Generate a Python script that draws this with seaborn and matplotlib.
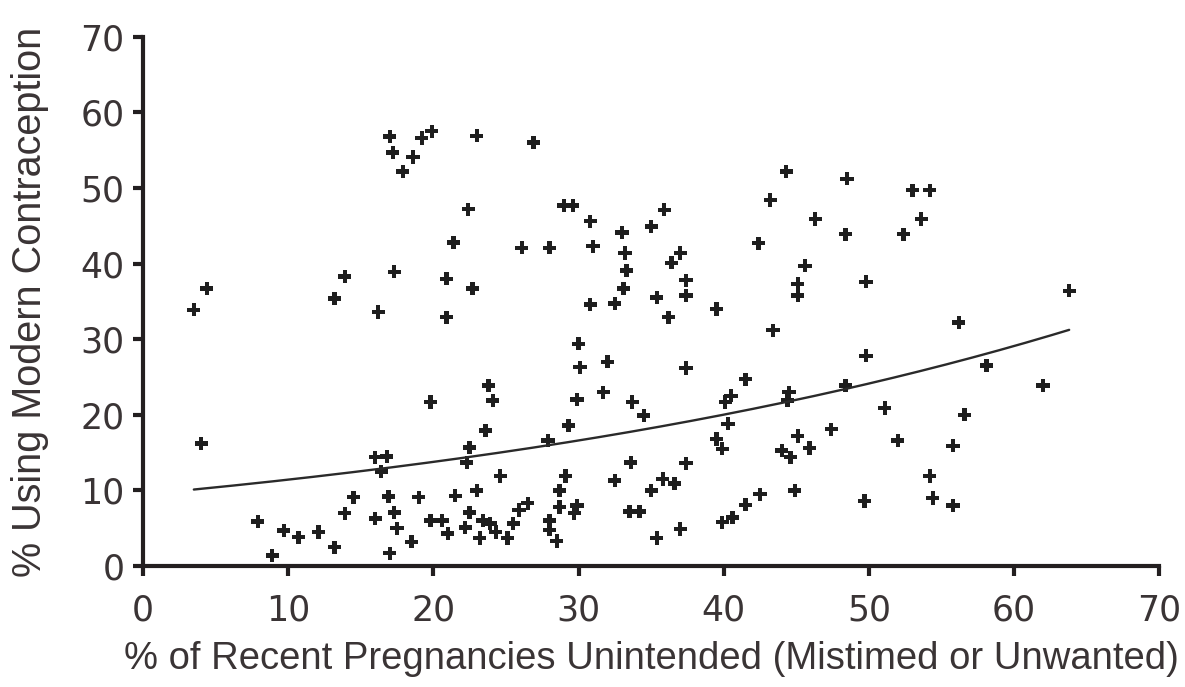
import numpy as np
import pandas as pd
import matplotlib
matplotlib.use('Agg')
import matplotlib.pyplot as plt
import seaborn as sns

# ── data ───────────────────────────────────────────────────────
unintended = [
    17.0, 17.2, 17.9, 18.6, 19.2, 19.9, 23.0, 22.4, 21.4, 4.4,
    3.5, 13.9, 17.3, 13.2, 16.2, 20.9, 22.7, 20.9, 4.0, 19.8,
    22.5, 22.3, 16.0, 16.8, 16.4, 14.5, 16.9, 19.0, 21.5, 23.0,
    7.9, 13.9, 16.0, 17.3, 9.7, 10.7, 12.1, 17.5, 19.8, 20.6,
    21.0, 22.2, 22.5, 18.5, 13.2, 8.9, 17.0, 23.2, 26.9, 44.3,
    43.2, 29.0, 29.6, 30.8, 33.0, 35.0, 35.9, 26.1, 28.0, 31.0,
    33.2, 33.3, 33.1, 37.0, 36.4, 37.4, 37.4, 35.4, 36.2, 42.4,
    39.5, 43.4, 30.8, 32.5, 30.0, 30.1, 32.0, 37.4, 41.5, 23.8,
    24.1, 31.7, 29.9, 33.7, 34.5, 29.3, 23.6, 27.9, 40.5, 40.1,
    40.3, 39.5, 39.9, 44.5, 44.4, 45.1, 44.0, 44.6, 33.6, 37.4,
    24.6, 29.1, 32.5, 35.8, 36.6, 35.0, 28.7, 26.5, 25.9, 28.7,
    29.9, 29.7, 23.4, 23.9, 25.5, 28.0, 28.0, 28.5, 33.5, 34.2,
    24.3, 25.1, 35.4, 37.0, 42.5, 41.5, 40.6, 39.9, 44.9, 48.5,
    53.0, 54.2, 53.6, 52.4, 46.3, 48.4, 45.6, 45.1, 45.1, 49.8,
    63.8, 56.2, 49.8, 58.1, 62.0, 48.4, 51.1, 56.6, 47.4, 45.9,
    52.0, 55.8, 54.2, 49.7, 54.4, 55.8,
]
modern_use = [
    56.8, 54.7, 52.2, 54.1, 56.6, 57.5, 56.9, 47.2, 42.8, 36.7,
    33.9, 38.3, 38.9, 35.4, 33.6, 38.0, 36.7, 32.9, 16.2, 21.7,
    15.7, 13.7, 14.4, 14.5, 12.5, 9.1, 9.2, 9.1, 9.3, 10.0,
    5.9, 7.0, 6.3, 7.1, 4.7, 3.8, 4.5, 5.0, 6.0, 6.0,
    4.3, 5.1, 7.1, 3.2, 2.5, 1.4, 1.7, 3.7, 56.0, 52.2,
    48.4, 47.7, 47.7, 45.6, 44.1, 44.9, 47.1, 42.1, 42.1, 42.3,
    41.4, 39.1, 36.7, 41.4, 40.1, 37.8, 35.8, 35.5, 32.9, 42.7,
    34.0, 31.2, 34.6, 34.7, 29.4, 26.3, 27.0, 26.2, 24.7, 23.9,
    21.9, 23.0, 22.0, 21.7, 19.9, 18.6, 17.9, 16.6, 22.5, 21.7,
    18.8, 16.8, 15.5, 23.0, 21.9, 17.2, 15.3, 14.4, 13.7, 13.6,
    11.9, 11.9, 11.3, 11.5, 10.9, 10.0, 10.0, 8.3, 7.4, 7.8,
    8.0, 7.0, 6.0, 5.6, 5.6, 6.0, 4.8, 3.3, 7.2, 7.2,
    4.5, 3.7, 3.7, 4.9, 9.5, 8.1, 6.4, 5.8, 10.0, 51.2,
    49.7, 49.7, 45.9, 43.9, 45.9, 43.9, 39.7, 37.3, 35.8, 37.6,
    36.4, 32.2, 27.8, 26.5, 23.9, 23.9, 20.9, 20.0, 18.1, 15.6,
    16.6, 15.9, 11.9, 8.6, 9.0, 8.0,
]
x_ticks = [0, 10, 20, 30, 40, 50, 60, 70]
y_ticks = [0, 10, 20, 30, 40, 50, 60, 70]
x_label = '% of Recent Pregnancies Unintended (Mistimed or Unwanted)'
y_label = '% Using Modern Contraception'

df = pd.DataFrame({'unintended': unintended, 'modern': modern_use})

# exponential trend line (fit on log y, like a spreadsheet trendline)
b, log_a = np.polyfit(df['unintended'], np.log(df['modern']), 1)
trend_x = np.linspace(df['unintended'].min(), df['unintended'].max(), 200)
trend = pd.DataFrame({'x': trend_x, 'y': np.exp(log_a) * np.exp(b * trend_x)})

# ── plot ───────────────────────────────────────────────────────
sns.set_style('ticks')
plt.rcParams['font.family'] = ['DejaVu Sans']
text_col = '#3a3435'
axis_col = '#231f20'

fig = plt.figure(figsize=(11.85, 6.87), dpi=100)
ax = fig.add_axes([0.1207, 0.1761, 0.8575, 0.7704])

sns.scatterplot(data=df, x='unintended', y='modern', marker='P',
                s=90, color='#1e1e1e', edgecolor='none', ax=ax)
sns.lineplot(data=trend, x='x', y='y', color='#2a2a2a', linewidth=1.7, ax=ax)

ax.set_xlim(0, 70)
ax.set_ylim(0, 70)
ax.set_xticks(x_ticks)
ax.set_yticks(y_ticks)
ax.tick_params(axis='both', direction='out', length=7.5, width=3,
               colors=axis_col, labelcolor=text_col, labelsize=25)
ax.tick_params(axis='x', pad=12)
ax.tick_params(axis='y', pad=6)
for side in ['left', 'bottom']:
    ax.spines[side].set_linewidth(3)
    ax.spines[side].set_color(axis_col)
sns.despine(ax=ax)

ax.set_xlabel(x_label, fontsize=27.5, color=text_col, labelpad=10,
              family='Liberation Sans')
ax.set_ylabel(y_label, fontsize=28.5, color=text_col, labelpad=22,
              family='Liberation Sans')

plt.savefig('out.png', dpi=100)
